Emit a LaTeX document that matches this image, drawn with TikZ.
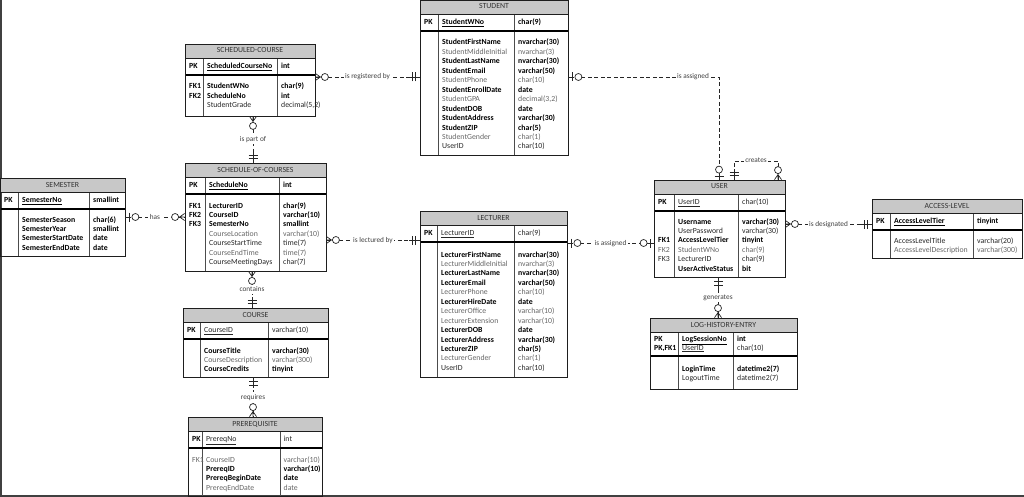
\documentclass[tikz,border=0pt]{standalone}
\usepackage{fontspec}
\setmainfont{Carlito}
\definecolor{headfill}{RGB}{200,200,200}
\definecolor{framecol}{RGB}{30,30,30}
\tikzset{
  every node/.style={font=\fontsize{7.8}{9}\selectfont, inner sep=0pt, text height=5.6pt, text depth=1.6pt},
  tframe/.style={draw=framecol, line width=0.8pt},
  colline/.style={draw=black!70, line width=0.6pt},
  pkline/.style={draw=black, line width=1.3pt},
  ttl/.style={text=black!80},
  attrb/.style={anchor=west, font=\fontsize{7.8}{9}\selectfont\bfseries, text=black},
  attrr/.style={anchor=west, text=black!85},
  attrl/.style={anchor=west, text=black!60},
  rel/.style={draw=black!85, line width=0.7pt, dash pattern=on 4pt off 2.5pt},
  solidrel/.style={draw=black!85, line width=0.7pt},
  lbl/.style={fill=white, text=black!75, font=\fontsize{7.3}{9}\selectfont, inner xsep=1.5pt, inner ysep=1pt},
  mk/.style={draw=black!85, line width=0.7pt},
  zmany/.pic={\draw[mk] (0,0)--(13.5,0) (0,-3.5)--(5,0)--(0,3.5); \draw[mk,fill=white] (9.5,0) circle (3.5);},
  oneone/.pic={\draw[mk] (0,0)--(11,0) (4,-4.5)--(4,4.5) (7.5,-4.5)--(7.5,4.5);},
  zone/.pic={\draw[mk] (0,0)--(6,0) (3.5,-4.5)--(3.5,4.5); \draw[mk,fill=white] (10,0) circle (3.5);},
}
% name,title,L,T,R,B,keycol,namecol,pkh
\newcommand\ERtable[9]{%
  \fill[headfill] (#3,#4) rectangle (#5,#4+14);
  \draw[colline] (#7,#4+14) -- (#7,#6) (#8,#4+14) -- (#8,#6);
  \draw[pkline] (#3,#4+14+#9) -- (#5,#4+14+#9);
  \draw[tframe] (#3,#4+14) -- (#5,#4+14);
  \node[tframe, inner sep=0pt, text height=0pt, text depth=0pt,
        minimum width={(#5-#3)*1pt}, minimum height={(#6-#4)*1pt}] (#1) at ({(#3+#5)/2},{(#4+#6)/2}) {};
  \node[ttl] (#1-title) at ({(#3+#5)/2},#4+7) {#2};
}
% name,keyx,namex,typex,y,key,pkname,type,style
\newcommand\ERpk[9]{%
  \node[attrb] (#1-pkk) at (#2,#5) {#6};
  \node[attr#9] (#1-pkn) at (#3,#5) {\underline{#7}};
  \node[attr#9] (#1-pkt) at (#4,#5) {#8};
}
% name,keyx,namex,typex,y0,list
\newcommand\ERrows[6]{%
  \foreach \k/\n/\t/\s [count=\i] in {#6} {
    \node[attr\s] (#1-k\i) at (#2,{#5+(\i-1)*9.45}) {\k};
    \node[attr\s] (#1-n\i) at (#3,{#5+(\i-1)*9.45}) {\n};
    \node[attr\s] (#1-t\i) at (#4,{#5+(\i-1)*9.45}) {\t};
  }
}
\begin{document}
\begin{tikzpicture}[x=1pt,y=-1pt]
\useasboundingbox (0,0) rectangle (1024,497);
\draw[line width=1.5pt, black!75] (0.75,0) -- (0.75,497) (0,496.2) -- (1024,496.2);

% STUDENT
\ERtable{student}{STUDENT}{420}{0}{568}{155}{438}{514}{17}
\ERpk{student}{424}{442}{518}{22.5}{PK}{StudentWNo}{char(9)}{b}
\ERrows{student}{424}{442}{518}{43}{{}/StudentFirstName/nvarchar(30)/b,{}/StudentMiddleInitial/nvarchar(3)/l,{}/StudentLastName/nvarchar(30)/b,{}/StudentEmail/varchar(50)/b,{}/StudentPhone/char(10)/l,{}/StudentEnrollDate/date/b,{}/StudentGPA/{decimal(3,2)}/l,{}/StudentDOB/date/b,{}/StudentAddress/varchar(30)/b,{}/StudentZIP/char(5)/b,{}/StudentGender/char(1)/l,{}/UserID/char(10)/r}

% SCHEDULED-COURSE
\ERtable{sc}{SCHEDULED-COURSE}{185}{44}{315}{116}{203}{277}{17}
\ERpk{sc}{189}{207}{281}{66.5}{PK}{ScheduledCourseNo}{int}{b}
\ERrows{sc}{189}{207}{281}{87}{FK1/StudentWNo/char(9)/b,FK2/ScheduleNo/int/b,{}/StudentGrade/{decimal(5,2)}/r}

% SCHEDULE-OF-COURSES
\ERtable{schedule}{SCHEDULE-OF-COURSES}{185}{163}{326}{271}{205}{279}{17}
\ERpk{schedule}{189}{209}{283}{185.5}{PK}{ScheduleNo}{int}{b}
\ERrows{schedule}{189}{209}{283}{206}{FK1/LecturerID/char(9)/b,FK2/CourseID/varchar(10)/b,FK3/SemesterNo/smallint/b,{}/CourseLocation/varchar(10)/l,{}/CourseStartTime/time(7)/r,{}/CourseEndTime/time(7)/l,{}/CourseMeetingDays/char(7)/r}

% SEMESTER
\ERtable{semester}{SEMESTER}{0}{178}{125}{256}{18}{89}{17}
\ERpk{semester}{4}{22}{93}{200.5}{PK}{SemesterNo}{smallint}{b}
\ERrows{semester}{4}{22}{93}{220}{{}/SemesterSeason/char(6)/b,{}/SemesterYear/smallint/b,{}/SemesterStartDate/date/b,{}/SemesterEndDate/date/b}

% COURSE
\ERtable{course}{COURSE}{183}{308}{328}{377}{200}{268}{17}
\ERpk{course}{187}{204}{272}{330.5}{PK}{CourseID}{varchar(10)}{r}
\ERrows{course}{187}{204}{272}{351}{{}/CourseTitle/varchar(30)/b,{}/CourseDescription/varchar(300)/l,{}/CourseCredits/tinyint/b}

% PREREQUISITE
\ERtable{prereq}{PREREQUISITE}{188}{417}{322}{496}{202}{280}{17}
\ERpk{prereq}{192}{206}{283.5}{439.5}{PK}{PrereqNo}{int}{r}
\ERrows{prereq}{192}{206}{283.5}{460}{FK1/CourseID/varchar(10)/l,{}/PrereqID/varchar(10)/b,{}/PrereqBeginDate/date/b,{}/PrereqEndDate/date/l}

% LECTURER
\ERtable{lecturer}{LECTURER}{420}{211}{567}{377}{437}{514}{17}
\ERpk{lecturer}{424}{441}{518}{233.5}{PK}{LecturerID}{char(9)}{r}
\ERrows{lecturer}{424}{441}{518}{255}{{}/LecturerFirstName/nvarchar(30)/b,{}/LecturerMiddleInitial/nvarchar(3)/l,{}/LecturerLastName/nvarchar(30)/b,{}/LecturerEmail/varchar(50)/b,{}/LecturerPhone/char(10)/l,{}/LecturerHireDate/date/b,{}/LecturerOffice/varchar(10)/l,{}/LecturerExtension/varchar(10)/l,{}/LecturerDOB/date/b,{}/LecturerAddress/varchar(30)/b,{}/LecturerZIP/char(5)/b,{}/LecturerGender/char(1)/l,{}/UserID/char(10)/r}

% USER
\ERtable{user}{USER}{654}{180}{785}{277}{674}{738}{17}
\ERpk{user}{658}{678}{742}{202.5}{PK}{UserID}{char(10)}{r}
\ERrows{user}{658}{678}{742}{222}{{}/Username/varchar(30)/b,{}/UserPassword/varchar(30)/r,FK1/AccessLevelTier/tinyint/b,FK2/StudentWNo/char(9)/l,FK3/LecturerID/char(9)/r,{}/UserActiveStatus/bit/b}

% ACCESS-LEVEL
\ERtable{access}{ACCESS-LEVEL}{872}{199}{1022}{258}{890}{973}{17}
\ERpk{access}{876}{894}{977}{221.5}{PK}{AccessLevelTier}{tinyint}{b}
\ERrows{access}{876}{894}{977}{241}{{}/AccessLevelTitle/varchar(20)/r,{}/AccessLevelDescription/varchar(300)/l}

% LOG-HISTORY-ENTRY
\ERtable{log}{LOG-HISTORY-ENTRY}{650}{318}{797}{389}{678}{733}{24}
\ERpk{log}{654}{682}{737}{339}{PK}{LogSessionNo}{int}{b}
\ERpk{logb}{654}{682}{737}{348}{PK,FK1}{UserID}{char(10)}{r}
\ERrows{log}{654}{682}{737}{369.5}{{}/LoginTime/datetime2(7)/b,{}/LogoutTime/datetime2(7)/r}

% ---------- relationships ----------
% is registered by
\draw[rel] (sc.east |- 0,77) -- node[lbl] (l-reg) {is registered by} (student.west |- 0,77);
\pic at (sc.east |- 0,77) {zmany};
\pic[rotate=180] at (student.west |- 0,77) {oneone};

% is assigned (student)
\coordinate (asg-corner) at (719,77);
\draw[rel] (student.east |- 0,77) -- (asg-corner) -- (user.north -| asg-corner);
\node[lbl] (l-asg1) at (693,77) {is assigned};
\pic at (student.east |- 0,77) {zone};
\pic[rotate=90] at (user.north -| asg-corner) {zone};

% creates
\coordinate (crt) at (756,161);
\draw[rel] (user.north -| 734,0) |- (crt) -| (user.north -| 778,0);
\node[lbl] (l-crt) at (crt) {creates};
\pic[rotate=90] at (user.north -| 734,0) {oneone};
\pic[rotate=90] at (user.north -| 778,0) {zmany};

% is designated
\draw[rel] (user.east |- 0,224) -- node[lbl] (l-des) {is designated} (access.west |- 0,224);
\pic at (user.east |- 0,224) {zmany};
\pic[rotate=180] at (access.west |- 0,224) {oneone};

% is assigned (lecturer)
\draw[rel] (lecturer.east |- 0,243) -- node[lbl] (l-asg2) {is assigned} (user.west |- 0,243);
\pic at (lecturer.east |- 0,243) {zone};
\pic[rotate=180] at (user.west |- 0,243) {zone};

% is lectured by
\draw[rel] (schedule.east |- 0,240) -- node[lbl] (l-lec) {is lectured by} (lecturer.west |- 0,240);
\pic at (schedule.east |- 0,240) {zmany};
\pic[rotate=180] at (lecturer.west |- 0,240) {oneone};

% has
\draw[rel] (semester.east |- 0,217) -- node[lbl] (l-has) {has} (schedule.west |- 0,217);
\pic at (semester.east |- 0,217) {zone};
\pic[rotate=180] at (schedule.west |- 0,217) {zmany};

% is part of
\draw[rel] (sc.south -| 253,0) -- node[lbl] (l-part) {is part of} (schedule.north -| 253,0);
\pic[rotate=-90] at (sc.south -| 253,0) {zmany};
\pic[rotate=90] at (schedule.north -| 253,0) {oneone};

% contains
\draw[rel] (schedule.south -| 252,0) -- node[lbl] (l-cont) {contains} (course.north -| 252,0);
\pic[rotate=-90] at (schedule.south -| 252,0) {zmany};
\pic[rotate=90] at (course.north -| 252,0) {oneone};

% requires
\draw[rel] (course.south -| 253,0) -- node[lbl] (l-req) {requires} (prereq.north -| 253,0);
\pic[rotate=-90] at (course.south -| 253,0) {oneone};
\pic[rotate=90] at (prereq.north -| 253,0) {zmany};

% generates
\draw[solidrel] (user.south -| 718,0) -- node[lbl] (l-gen) {generates} (log.north -| 718,0);
\pic[rotate=-90] at (user.south -| 718,0) {oneone};
\pic[rotate=90] at (log.north -| 718,0) {zmany};
\end{tikzpicture}
\end{document}
